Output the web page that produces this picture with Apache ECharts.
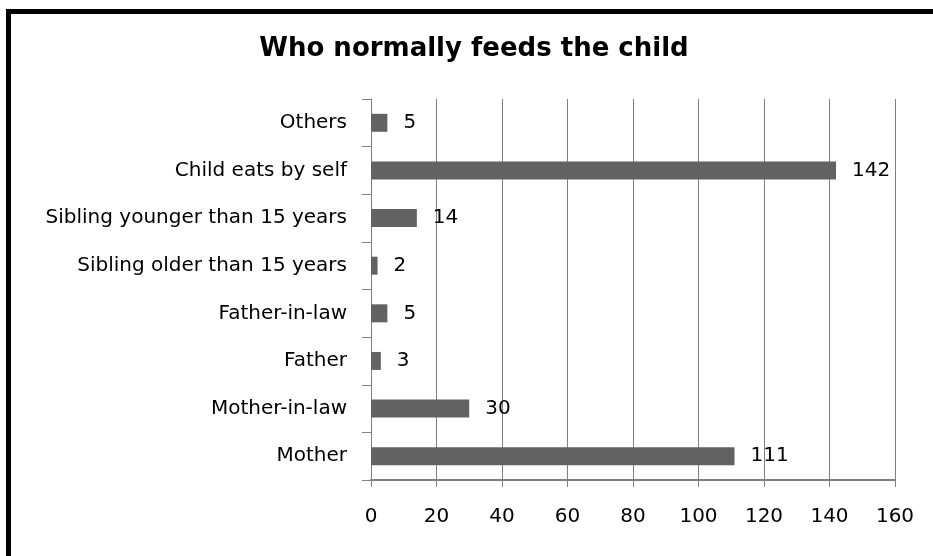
<!DOCTYPE html>
<html>
<head>
<meta charset="utf-8">
<script src="https://cdn.jsdelivr.net/npm/echarts@6/dist/echarts.min.js"></script>
<style>
  html, body { margin: 0; padding: 0; background: #fff; }
  #chart { width: 933px; height: 556px; }
</style>
</head>
<body>
<div id="chart"></div>
<script>
// Who normally feeds the child — counts per caregiver (bottom to top)
const categories = [
  'Mother',
  'Mother-in-law',
  'Father',
  'Father-in-law',
  'Sibling older than 15 years',
  'Sibling younger than 15 years',
  'Child eats by self',
  'Others'
];
const counts = [111, 30, 3, 5, 2, 14, 142, 5];
const axisMax = 160;
const axisStep = 20;

const FONT = 'DejaVu Sans';
const GRAY = '#808080';

const chart = echarts.init(document.getElementById('chart'), null, { renderer: 'canvas' });

chart.setOption({
  animation: false,
  backgroundColor: '#ffffff',
  title: {
    text: 'Who normally feeds the child',
    left: 469,
    top: 31,
    textAlign: 'center',
    textStyle: {
      fontFamily: FONT,
      fontSize: 26,
      fontWeight: 'bold',
      color: '#000'
    }
  },
  graphic: [{
    type: 'rect',
    silent: true,
    shape: { x: 8.5, y: 11.5, width: 1200, height: 1200 },
    style: { fill: 'none', stroke: '#000', lineWidth: 5 }
  }],
  grid: { left: 371, right: 38, top: 99, bottom: 76, containLabel: false },
  xAxis: {
    type: 'value',
    min: 0,
    max: axisMax,
    interval: axisStep,
    axisLine: { show: true, lineStyle: { color: GRAY, width: 2 } },
    axisTick: { show: true, length: 7, lineStyle: { color: GRAY, width: 1 } },
    splitLine: { show: true, lineStyle: { color: GRAY, width: 1 } },
    axisLabel: {
      margin: 27,
      fontFamily: FONT,
      fontSize: 20,
      color: '#000'
    }
  },
  yAxis: {
    type: 'category',
    data: categories,
    boundaryGap: true,
    axisLine: { show: true, lineStyle: { color: GRAY, width: 1 } },
    axisTick: { show: true, length: 9, alignWithLabel: false, lineStyle: { color: GRAY, width: 1 } },
    axisLabel: {
      margin: 24,
      fontFamily: FONT,
      fontSize: 20,
      color: '#000'
    }
  },
  series: [{
    type: 'bar',
    data: counts,
    barWidth: 18,
    itemStyle: { color: '#626262' },
    label: {
      show: true,
      position: 'right',
      distance: 16,
      fontFamily: FONT,
      fontSize: 20,
      color: '#000'
    }
  }]
});
</script>
</body>
</html>
